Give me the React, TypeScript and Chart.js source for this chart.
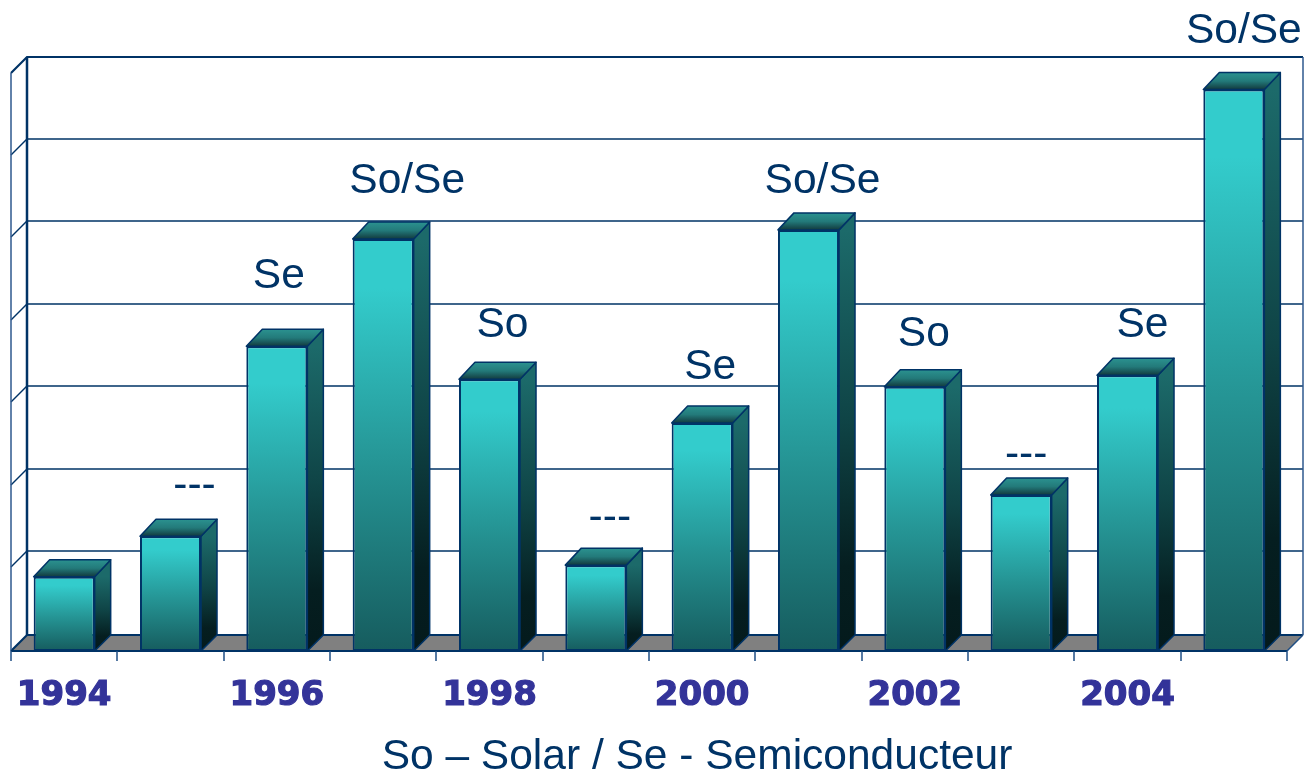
import React, { useEffect, useRef } from "react";
import { Chart, registerables } from "chart.js";

Chart.register(...registerables);

const years = ["1994","1995","1996","1997","1998","1999","2000","2001","2002","2003","2004","2005"];
const values = [9, 13.9, 36.9, 49.9, 32.9, 10.4, 27.6, 51, 32, 18.9, 33.4, 68];
const annotations = ["", "---", "Se", "So/Se", "So", "---", "Se", "So/Se", "So", "---", "Se", "So/Se"];
const xTitle = "So \u2013 Solar / Se - Semiconducteur";

// Layout of the floating annotations, relative to each bar's front top centre.
const noteDx = [0, 24, 2, 24, 13, 14, 8, 14, 9, 5, 15, 10];
const noteDy = [0, 53, 73, 61, 57, 50, 59, 52, 55, 43, 53, 61];

const DEPTH = 16;
const BAR_RISE = 17;
const NAVY = "#003366";

function vGrad(ctx: CanvasRenderingContext2D, y0: number, y1: number, stops: [number, string][]) {
  const g = ctx.createLinearGradient(0, y0, 0, y1);
  stops.forEach(([o, c]) => g.addColorStop(o, c));
  return g;
}

const backdrop = {
  id: "backdrop",
  beforeDatasetsDraw(chart: any) {
    const { ctx, chartArea: a, scales } = chart;
    const y = scales.y;
    const x = scales.x;
    const base = y.getPixelForValue(0);
    ctx.save();
    // floor
    ctx.fillStyle = "#808080";
    ctx.beginPath();
    ctx.moveTo(a.left, base);
    ctx.lineTo(a.left + DEPTH, base - DEPTH);
    ctx.lineTo(a.right + DEPTH, base - DEPTH);
    ctx.lineTo(a.right, base);
    ctx.closePath();
    ctx.fill();
    // grid lines on the back and left walls
    ctx.strokeStyle = NAVY;
    y.ticks.forEach((t: any) => {
      const isFloor = t.value === 0;
      const isTop = t.value === y.max;
      const py = Math.round(y.getPixelForValue(t.value)) - (isFloor || isTop ? 0 : 1);
      ctx.lineWidth = isFloor || isTop ? 2.2 : 1.4;
      ctx.beginPath();
      ctx.moveTo(a.left, py);
      ctx.lineTo(a.left + DEPTH, py - DEPTH);
      ctx.lineTo(a.right + DEPTH, py - DEPTH);
      ctx.stroke();
    });
    // walls' verticals
    ctx.lineWidth = 2.5;
    ctx.beginPath();
    ctx.moveTo(a.left + DEPTH, a.top - DEPTH);
    ctx.lineTo(a.left + DEPTH, base - DEPTH);
    ctx.stroke();
    ctx.lineWidth = 1.5;
    ctx.strokeStyle = "#2f5a8f";
    ctx.beginPath();
    ctx.moveTo(a.left, a.top);
    ctx.lineTo(a.left, base);
    ctx.moveTo(a.right + DEPTH, a.top - DEPTH);
    ctx.lineTo(a.right + DEPTH, base - DEPTH);
    ctx.stroke();
    // front edge and category ticks
    ctx.strokeStyle = NAVY;
    ctx.lineWidth = 2.2;
    ctx.beginPath();
    ctx.moveTo(a.left, base);
    ctx.lineTo(a.right, base);
    ctx.stroke();
    const step = (x.right - x.left) / years.length;
    ctx.lineWidth = 1.5;
    ctx.strokeStyle = "#1f4f85";
    ctx.beginPath();
    ctx.moveTo(a.right, base);
    ctx.lineTo(a.right + DEPTH, base - DEPTH);
    for (let i = 0; i <= years.length; i++) {
      const px = Math.round(x.getPixelForValue(0) - step / 2 + i * step);
      ctx.moveTo(px, base);
      ctx.lineTo(px, base + 10);
    }
    ctx.stroke();

    // side and top faces of every bar
    const meta = chart.getDatasetMeta(0);
    meta.data.forEach((bar: any) => {
      const hw = bar.width / 2;
      const l = bar.x - hw;
      const r = bar.x + hw;
      const t = bar.y;
      const b = bar.base;
      ctx.strokeStyle = NAVY;
      ctx.lineWidth = 1.5;
      ctx.lineJoin = "round";
      // side
      ctx.fillStyle = vGrad(ctx, t, b, [[0, "#1c6a6a"], [0.45, "#0f4446"], [0.8, "#051e20"], [1, "#041a1c"]]);
      ctx.beginPath();
      ctx.moveTo(r, t);
      ctx.lineTo(r + DEPTH, t - BAR_RISE);
      ctx.lineTo(r + DEPTH, b - DEPTH);
      ctx.lineTo(r, b);
      ctx.closePath();
      ctx.fill();
      ctx.stroke();
      // top
      ctx.fillStyle = vGrad(ctx, t - BAR_RISE, t, [[0, "#2b9290"], [0.5, "#237a7a"], [1, "#123a3e"]]);
      ctx.beginPath();
      ctx.moveTo(l, t);
      ctx.lineTo(l + DEPTH, t - BAR_RISE);
      ctx.lineTo(r + DEPTH, t - BAR_RISE);
      ctx.lineTo(r, t);
      ctx.closePath();
      ctx.fill();
      ctx.stroke();
    });
    ctx.restore();
  },
  afterDatasetsDraw(chart: any) {
    const { ctx, scales } = chart;
    const meta = chart.getDatasetMeta(0);
    ctx.save();
    ctx.fillStyle = NAVY;
    ctx.font = '42.5px "Liberation Sans", Arial, sans-serif';
    ctx.textAlign = "center";
    ctx.textBaseline = "middle";
    meta.data.forEach((bar: any, i: number) => {
      if (!annotations[i]) return;
      ctx.fillText(annotations[i], bar.x + noteDx[i], bar.y - noteDy[i] + 3);
    });
    ctx.fillText(xTitle, (scales.x.left + scales.x.right) / 2 + 48, scales.y.getPixelForValue(0) + 106);
    ctx.restore();
  },
};

export default function App() {
  const ref = useRef<HTMLCanvasElement>(null);
  useEffect(() => {
    const canvas = ref.current!;
    const chart = new Chart(canvas, {
      type: "bar",
      data: {
        labels: years,
        datasets: [
          {
            data: values,
            barPercentage: 0.574,
            categoryPercentage: 1,
            borderWidth: 2,
            borderColor: NAVY,
            borderSkipped: false,
            backgroundColor: (c: any) => {
              const ch = c.chart;
              const y = ch.scales.y;
              if (!y || c.raw === undefined) return "#33cccc";
              const y0 = y.getPixelForValue(c.raw);
              const y1 = y.getPixelForValue(0);
              if (!Number.isFinite(y0) || !Number.isFinite(y1)) return "#33cccc";
              return vGrad(ch.ctx, y0, y1, [
                [0, "#33cccc"],
                [0.12, "#33cccc"],
                [0.55, "#259494"],
                [1, "#165c5e"],
              ]);
            },
          },
        ],
      },
      options: {
        responsive: false,
        animation: false,
        layout: { padding: { left: 11, right: 21, top: 73, bottom: 0 } },
        plugins: { legend: { display: false }, tooltip: { enabled: false } },
        scales: {
          x: {
            offset: true,
            grid: { display: false },
            border: { display: false },
            afterFit: (s: any) => {
              s.height = 122;
              s.paddingLeft = 0;
              s.paddingRight = 0;
            },
            ticks: {
              autoSkip: false,
              maxRotation: 0,
              minRotation: 0,
              padding: 17,
              color: "#333399",
              textStrokeColor: "#333399",
              textStrokeWidth: 1.2,
              font: { family: '"DejaVu Sans", sans-serif', weight: "bold", size: 34 },
              callback: (_v: any, i: number) => (i % 2 === 0 ? years[i] : ""),
            },
          },
          y: {
            min: 0,
            max: 70,
            display: false,
            ticks: { stepSize: 10 },
            grid: { display: false },
          },
        },
      },
      plugins: [backdrop],
    } as any);
    return () => chart.destroy();
  }, []);
  return (
    <div style={{ position: "absolute", left: 0, top: 0, width: 1308, height: 773, overflow: "hidden", background: "#fff" }}>
      <canvas ref={ref} width={1308} height={773} style={{ display: "block" }} />
    </div>
  );
}
